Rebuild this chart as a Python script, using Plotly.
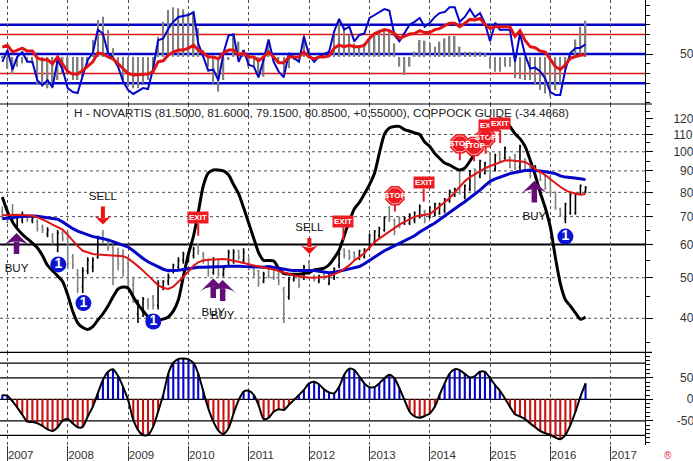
import numpy as np
import pandas as pd
import plotly.graph_objects as go

dates = pd.date_range("2006-12-01", periods=117, freq="MS")

rsi_hist = [45.6,35.3,29.5,37,40.4,42.1,40.4,18.2,16.5,14.8,14.8,23.3,30.2,30.2,23.3,23.3,26.7,37,64.4,84.9,88.3,74.6,55.8,40.4,23.3,16.5,14.8,14.8,20,23.3,30.2,67.8,83.2,95.1,97.9,96.9,95.8,91.7,91.7,76.3,54.1,37,20,11.4,23.3,43.8,71.2,62.7,54.1,37,37,28.5,26.7,60.9,43.8,40.4,28.5,35.3,43.8,47.3,69.5,55.8,43.8,45.6,47.3,47.3,71.2,84.9,78,
            69.5,60.9,59.2,60.9,66.1,71.2,74.6,74.6,72.9,60.9,37,28.5,37,52.4,64.4,63.7,60.9,57.5,62.7,66.1,68.5,68.5,57.5,52.4,52.4,52.4,52.4,50.7,35.3,31.9,31.9,37,37,25,24.4,23.3,23.3,18.2,13.1,9.6,6.2,13.1,20,35.3,45.6,65,78,84.2]
rsi_blue = [42,54,34,47,52,42,42,23,18,23,16,44,34,15,11,10,28,44,51,75,71,51,46,37,22,13,9,12,15,14,35,64,66,76,83,88,89,90,93,61,47,33,34,23,51,69,70,42,54,39,37,26,44,65,42,32,26,51,46,42,68,49,42,47,50,52,73,86,75,
            78,63,69.5,71,87,90,93,96,94.5,69.5,63,71,80,83,87,78,82,88,92,93,98,98,83,88,96,88,92,81.5,63,82,75,75,75,42,71,49,35,36,32,25,11,8,8,34,51,56,56.5,60]
rsi_red = [57,59,52,54,56,53,53,46,44,44,40,47,40,32,29.5,29.5,33,37,42,51,50,47,45,40,35,30,28.5,29,29.5,29.5,32,42,43,49,52,54,54,56,59,54,51,47,47,45,51,54,54,49,51,47,47,43,47,52,47,41,41,47,47,47,52,47,45,47,47,48,56,59,57.5,
           59,57.5,57.5,59,66,71,73,75,74,71,66,68,70.5,71,74,72,72,75,76,79,81.5,81.5,78,81.5,85.5,85,86.5,80,76,78,78,78,78,68,74,64,57.5,56.5,53,52,44,37,34,39,45.5,47,49,49]
rsi_lines_blue = [80, 50, 20]
rsi_lines_red = [70, 30]

price_high = [74,73.5,75,71,72,70.5,70,69,67,66,64,65,65,64.5,57,52.5,53,56,56,63,65,62,60,59,58.5,56,50.3,44.3,45,44.7,45.5,49.3,49.3,51.2,54,56,57.7,57.7,59.3,60.4,57.7,55.6,56,55.1,53,58.3,58.5,58.3,58.8,56,52.7,52.2,51.7,53,53,51.7,47.6,50.3,50.8,50.3,53.6,55.1,50.8,50.8,51.2,51.2,53,57.7,58.8,
              58.3,57.7,58.3,58.8,63.8,65,66.2,70,74.2,69.3,70,70,71.3,72,74.8,72.7,74.2,75.6,75.6,77.6,81.2,82,90.5,83.5,90.5,91.3,95.7,94.7,100,99,100,103,97.4,99,104,96.5,93,93,89.7,88,88,80.4,73.5,75.6,79.7,79.7,83.5,82.8]
price_low = [69,67.5,67.5,65,67.5,68,67.5,64.5,64,62.5,60,57.5,61,52.5,52.5,46,46,51,51.5,55.5,60.5,58,48,52,50.3,47.5,43.5,39,40.3,42,42,42,46.7,48,51.2,52,54,54.6,55.6,56.7,54,50.3,50.8,50.3,50.3,53.6,54,55.1,54,52,50.3,47.6,48.5,49.8,49.4,48,39,44.3,49,47.2,49.4,50.8,49,48.5,49.4,48,49.4,52.7,55.6,
             55.1,55.1,55.1,55.6,58.3,59.9,62,64.4,68,63.2,65.7,66.8,66.8,67.5,69.3,67.5,69.3,70,70.7,71.3,75.6,78,79,77,80.5,79,86.5,88.3,82.8,89.7,94,95.7,91.3,90.5,90.5,89.7,86.5,86.5,85,81,79,72.7,70,67.5,70.7,70.7,79,79.7]
price_open = [72,70,72,66.5,68.5,70.2,68.5,68,66,63.5,63,60,64,62,56,51,47.5,52,53,56,64,61,59,57,57,54,48,41,41.5,44,45,43,47.5,49,52,53,55,55,56.5,60,57,55,51.5,54,51,54.5,55,58,55,55.5,52.5,52,49,52.5,52.5,51,47,45,49.5,50,50,54.5,50.5,49,51,48.5,50,53.5,58.5,
              58,57.5,56,56,59,61,63,65,73.5,68.5,69.5,67.5,67.5,68.5,70,72,70,71,71.5,72.5,76.5,78.5,90,78,81.5,90.5,87.5,89,99,91,99,96.5,97,98,92,96,92.5,87.5,89,87.5,87,80,73,69,71.5,71.5,79.7,80.5]
price_close = [70,69,69,70,71,69,69.5,65.5,65,65,61,64,62,54,53.5,47,52,55,55,62,61.5,59,50,54,52,49,44.5,43.5,44.5,43,43,48.5,49,50.5,53.5,55,57,57,58.5,58,55.5,51.5,55,51,52.5,57.5,57.5,56,57.5,53,51,48.5,51,50.5,50,49,41,49.5,50.5,48,53,51.5,49.5,50.5,50,50.5,52.5,57,56.5,
               56,56,58,58.5,63,64.5,65.5,69.5,69,64.5,66.5,69.5,70.5,71.5,74,68.5,73.5,75,75,77,80.5,81.5,80,83,90,80,95,94,84,98,95,102,92,91.5,103,90.5,87.5,92,86,82,80,73.5,70.5,75,79,79,83,82]

ma_blue = [69.2,69.5,69.6,69.8,70,70.2,70.2,70.1,69.8,69.4,69.2,69,68,66.6,65.5,64.6,64,63.2,62.7,62.4,62.1,61.6,61,60.4,60,59.2,58,56.8,55.6,54.6,53.8,53,52.4,52,52,52.1,52.3,52.6,52.9,53,53,53,53,53.1,53.2,53.3,53.4,53.3,53.2,53.1,53,52.9,53,53.2,53,52.6,52.4,52.2,52,52,52.1,52.1,52,51.8,51.6,51.4,51.5,51.9,52.2,
           52.5,52.8,53.2,54,55,56,57,58,58.8,59.6,60.4,61.3,62.2,63,64.3,65.5,66.5,67.6,68.8,70,71.4,73,74.5,76,77.6,79.3,81,83,85,86.2,87,88,88.7,89.2,89.7,90.2,90.3,90.3,90,89.6,89.3,88.7,87.6,87,86.8,86.6,86.2,85.8]
ma_red = [70.5,70.6,70.7,70.7,70.6,70.5,70.3,69.8,69,68,67,66.2,65.2,63.3,61.3,59.5,58,57.4,57,56.8,56.7,56.6,56.5,56.4,56.3,55.6,54.5,53.3,52,50.6,49.3,48,47.3,47,47.6,48.8,50.2,51.8,53.4,54.4,55,55.2,55.3,55.4,55.4,55.2,55,54.6,54.2,53.8,53.5,53.2,52.9,52.7,52.3,51.9,51.4,50.9,50.6,50.4,50.2,50.1,50,50,50.2,50.4,51,51.6,52.5,
          53.6,55,56,57.3,59,60.8,62,63.3,64.6,65.8,67,68,69,70,70.4,70.7,71,72.5,74,75.5,77.5,80,82.5,85,87,88.5,90,91.3,92.5,93.5,94.6,95.3,95.4,95.2,95,94.5,93,91,89.5,88,86,84,82.5,81,80,79.5,79,79.3]
guide = [78,72,68,65.5,63.5,62,60.5,59,56.5,53.5,52,50.5,49,45.5,41.5,39,38,37.6,38.2,39.6,41,42.8,45,47,47.5,47.2,45,43.2,41.7,40.3,39.6,39.6,39.8,40.3,41.6,44.3,50.3,57,63,71.5,83,89,90.5,90.5,90,88,83.5,79.3,73.5,67.5,62,57.5,55,55,54.8,52.7,51.2,51,51,51,51.2,51.4,52.2,52.4,52.7,53.7,55.7,58.2,63,
         68.3,73,75.7,79.3,83.5,89,99,110,114,115,115,113,112,111,110,105.5,103,99,96.5,94,93,91.5,90.5,91.5,95,99.5,105,111,116,119,120,119,115,110.5,107.5,103,95.5,88,79.8,73.5,66,55.7,48.5,44.3,42.8,41.2,39.8,40.3]
price_solid = [60]
price_dashed = [40, 50, 70, 80, 90, 100, 110]

coppock = [10,8,-5,-19,-36,-52,-53,-56,-62,-70,-74,-65,-50,-46,-56,-65,-64,-40,-17,14,45,64,70,54,29,-2,-48,-71,-83,-83,-64,-29,10,60,85,94,95,93,84,60,18,-21,-52,-73,-81,-67,-33,-2,18,20,10,-13,-46,-43,-29,-23,-25,-13,-2,10,22,37,41,35,23,16,14,29,57,
           71,68,53,37,28,29,37,49,57,49,26,-2,-29,-40,-43,-39,-33,-17,10,37,60,70,68,59,51,54,64,64,49,33,20,2,-17,-35,-40,-46,-56,-65,-74,-79,-83,-89,-93,-83,-60,-29,6,37]
coppock_lines = [84, 50, 0, -50, -84]

years = [str(y) for y in range(2007, 2018)]
year_dates = [f"{y}-01-01" for y in years]

buy_dates = ["2007-02-25", "2010-05-31", "2010-07-27", "2015-09-26"]
buy_tip = [64, 49.8, 49.4, 85.3]
buy_shaft = [61, 47.6, 47.2, 81.5]
buy_tail = [57, 44.7, 44, 75.7]
buy_label = [52.5, 41.2, 40.5, 69.7]
sell_dates = ["2008-08-01", "2012-01-03"]
sell_tip = [67, 57]
sell_shaft = [69.5, 59.2]
sell_tail = [74, 62.2]
sell_label = [77.9, 65.6]
one_dates = ["2007-11-05", "2008-04-05", "2009-06-02", "2016-04-01"]
one_price = [53.8, 43.5, 39.3, 62.7]
stop_dates = ["2013-06-04", "2014-07-02", "2014-09-26", "2014-12-05"]
stop_price = [78.5, 104.5, 103, 108]
stop_end = [72, 95.5, 95, 99]
exit_dates = ["2010-03-01", "2012-07-27", "2013-11-25", "2014-12-28", "2015-03-03"]
exit_end = [63, 61.5, 76, 108, 105]

TITLE = "H - NOVARTIS (81.5000, 81.6000, 79.1500, 80.8500, +0.55000), COPPOCK GUIDE (-34.4668)"
FONT = "Liberation Sans"
BLUE = "#0505C8"
RED = "#E01414"
PURPLE = "#650E78"
SIGN = "#EC1C24"
ARROW_RED = "#EE1111"
GREY = "#808080"
DASH = "#505050"

H_PLOT = 445.0
D3_TOP = (H_PLOT - 352.3) / H_PLOT
D2_TOP = (H_PLOT - 104.0) / H_PLOT

fig = go.Figure()

# top panel
fig.add_trace(go.Bar(x=dates, y=[v - 47 for v in rsi_hist], base=47, width=8.0e8,
                     marker=dict(color=GREY, line=dict(width=0)), yaxis="y"))
fig.add_trace(go.Scatter(x=dates, y=rsi_blue, mode="lines", line=dict(color=BLUE, width=2), yaxis="y"))
fig.add_trace(go.Scatter(x=dates, y=rsi_red, mode="lines", line=dict(color=RED, width=3), yaxis="y"))

# price panel
fig.add_trace(go.Ohlc(x=dates, open=price_open, high=price_high, low=price_low, close=price_close,
                      increasing=dict(line=dict(color="#000000", width=1.6)),
                      decreasing=dict(line=dict(color=GREY, width=1.6)),
                      tickwidth=0.25, yaxis="y2"))
fig.add_trace(go.Scatter(x=dates, y=guide, mode="lines", line=dict(color="#000000", width=3, shape="spline", smoothing=0.7), yaxis="y2"))
fig.add_trace(go.Scatter(x=dates, y=ma_blue, mode="lines", line=dict(color=BLUE, width=3), yaxis="y2"))
fig.add_trace(go.Scatter(x=dates, y=ma_red, mode="lines", line=dict(color=RED, width=2), yaxis="y2"))

def segments(ds, a, b):
    xs, ys = [], []
    for d, p, q in zip(ds, a, b):
        xs += [d, d, None]
        ys += [p, q, None]
    return xs, ys

# stop signs
sx, sy = segments(stop_dates, stop_price, stop_end)
fig.add_trace(go.Scatter(x=sx, y=sy, mode="lines", line=dict(color=SIGN, width=2), yaxis="y2"))
fig.add_trace(go.Scatter(x=stop_dates, y=stop_price, mode="markers", yaxis="y2",
                         marker=dict(symbol="octagon", size=21, color=SIGN, line=dict(width=0))))
fig.add_trace(go.Scatter(x=stop_dates, y=stop_price, mode="markers+text", yaxis="y2", text=["STOP"] * 4,
                         textposition="middle center", textfont=dict(family=FONT, size=8, color="white", weight="bold"),
                         marker=dict(symbol="octagon", size=17, color=SIGN, line=dict(width=1, color="#F7B0B0"))))

# circled ones
fig.add_trace(go.Scatter(x=one_dates, y=one_price, mode="markers+text", yaxis="y2", text=["1"] * 4,
                         textposition="middle center", textfont=dict(family=FONT, size=14, color="white", weight="bold"),
                         marker=dict(symbol="circle", size=16, color="#0A14D2", line=dict(width=0))))

# buy / sell arrows
bx, by = segments(buy_dates, buy_shaft, buy_tail)
fig.add_trace(go.Scatter(x=bx, y=by, mode="lines", line=dict(color=PURPLE, width=5.5), yaxis="y2"))
fig.add_trace(go.Scatter(x=buy_dates, y=buy_tip, mode="markers", yaxis="y2",
                         marker=dict(symbol="arrow-wide", size=20, color=PURPLE, line=dict(width=0))))
sx2, sy2 = segments(sell_dates, sell_shaft, sell_tail)
fig.add_trace(go.Scatter(x=sx2, y=sy2, mode="lines", line=dict(color=ARROW_RED, width=4), yaxis="y2"))
fig.add_trace(go.Scatter(x=sell_dates, y=sell_tip, mode="markers", yaxis="y2",
                         marker=dict(symbol="arrow-wide", angle=180, size=15, color=ARROW_RED, line=dict(width=0))))
fig.add_trace(go.Scatter(x=buy_dates + sell_dates, y=buy_label + sell_label, mode="text", yaxis="y2",
                         text=["BUY"] * 4 + ["SELL"] * 2, textposition="middle center",
                         textfont=dict(family=FONT, size=11.5, color="#111111")))

# coppock
fig.add_trace(go.Bar(x=dates, y=coppock, width=1.1e9, yaxis="y3",
                     marker=dict(color=[BLUE if v >= 0 else "#CC1010" for v in coppock], line=dict(width=0))))
fig.add_trace(go.Scatter(x=dates, y=coppock, mode="lines", line=dict(color="#000000", width=2, shape="spline", smoothing=0.7), yaxis="y3"))

shapes = []
def hline(v, yref, color, width, dash="solid"):
    shapes.append(dict(type="line", xref="x domain", x0=0, x1=1, yref=yref, y0=v, y1=v, layer="below",
                       line=dict(color=color, width=width, dash=dash)))
for v in rsi_lines_blue:
    hline(v, "y", BLUE, 2.6)
for v in rsi_lines_red:
    hline(v, "y", RED, 1.3)
for v in price_dashed:
    hline(v, "y2", DASH, 1, "3px,3px")
for v in price_solid:
    hline(v, "y2", "#000000", 2)
for v in coppock_lines:
    hline(v, "y3", "#000000", 1.2)
for py in (D2_TOP, D3_TOP):
    shapes.append(dict(type="line", xref="paper", x0=0, x1=652 / 645, yref="paper", y0=py, y1=py,
                       line=dict(color="#000000", width=1.2)))

annotations = [
    dict(xref="paper", yref="paper", x=321.5 / 645, y=1 - 112.5 / H_PLOT, text=TITLE, showarrow=False,
         font=dict(family=FONT, size=11.7, color="#222222"), xanchor="center", yanchor="middle"),
    dict(xref="paper", yref="paper", x=667.5 / 645, y=1 - 455 / H_PLOT, text="®", showarrow=False,
         font=dict(family=FONT, size=10, color="#E03040"), xanchor="center", yanchor="middle"),
]
for d, e, a in zip(exit_dates, exit_end, [-18, -19, -19, -12, -19]):
    annotations.append(dict(x=d, y=float(np.log10(e)), xref="x", yref="y2", ax=0, ay=a, text="<b>EXIT</b>",
                            showarrow=True, arrowhead=0, arrowwidth=2, arrowcolor=SIGN, bgcolor=SIGN, borderpad=1,
                            font=dict(family=FONT, size=8, color="white")))

def pad(s, n):
    return "\u00a0" * n + s

axis_common = dict(side="right", anchor="x", showline=True, linecolor="#000000", linewidth=1, ticks="outside",
                   ticklen=7, tickcolor="#000000", showgrid=False, zeroline=False, ticklabelstandoff=18,
                   automargin=False, tickfont=dict(family=FONT, size=12, color="#333333"), tickmode="array")
minor_style = dict(ticks="outside", ticklen=4, tickcolor="#000000", showgrid=False)

fig.update_layout(
    width=693, height=461, autosize=False, showlegend=False, plot_bgcolor="white", paper_bgcolor="white",
    margin=dict(l=0, r=48, t=0, b=16, pad=0), barmode="overlay", shapes=shapes, annotations=annotations,
    xaxis=dict(type="date", range=["2006-11-17", "2017-07-27"], anchor="y3", tickmode="array",
               tickvals=year_dates, ticktext=years, ticks="outside", ticklen=16, tickcolor="#333333",
               ticklabelposition="outside right", ticklabelstandoff=-1, showgrid=True, gridcolor=DASH,
               griddash="3px,3px", gridwidth=1,
               zeroline=False, showline=False, rangeslider=dict(visible=False), automargin=False,
               tickfont=dict(family=FONT, size=11.5, color="#333333")),
    yaxis=dict(domain=[D2_TOP, 1], range=[-1.3, 105.4], tickvals=[0, 50, 100], ticktext=["", pad("50", 2), ""],
               minor=dict(tickvals=list(range(0, 101, 10)), **minor_style), **axis_common),
    yaxis2=dict(domain=[D3_TOP, D2_TOP], type="log", range=[float(np.log10(33.17)), float(np.log10(130.1))],
                tickvals=[40, 50, 60, 70, 80, 90, 100, 110, 120],
                ticktext=[pad("40", 2), pad("50", 2), pad("60", 2), pad("70", 2), pad("80", 2), pad("90", 2), "100", "110", "120"],
                minor=dict(tickvals=list(range(35, 130, 5)), **minor_style), **axis_common),
    yaxis3=dict(domain=[0, D3_TOP], range=[-106.3, 109.3], tickvals=[-100, -50, 0, 50, 100],
                ticktext=["", pad("-50", 1), pad("0", 4), pad("50", 2), ""],
                minor=dict(tickvals=list(range(-100, 101, 10)), **minor_style), **axis_common),
)
fig.update_traces(hoverinfo="skip", selector=dict(type="scatter"))
fig.write_html("out.html", config=dict(displayModeBar=False),
               post_script="document.body.style.margin='0';document.body.style.overflow='hidden';")
